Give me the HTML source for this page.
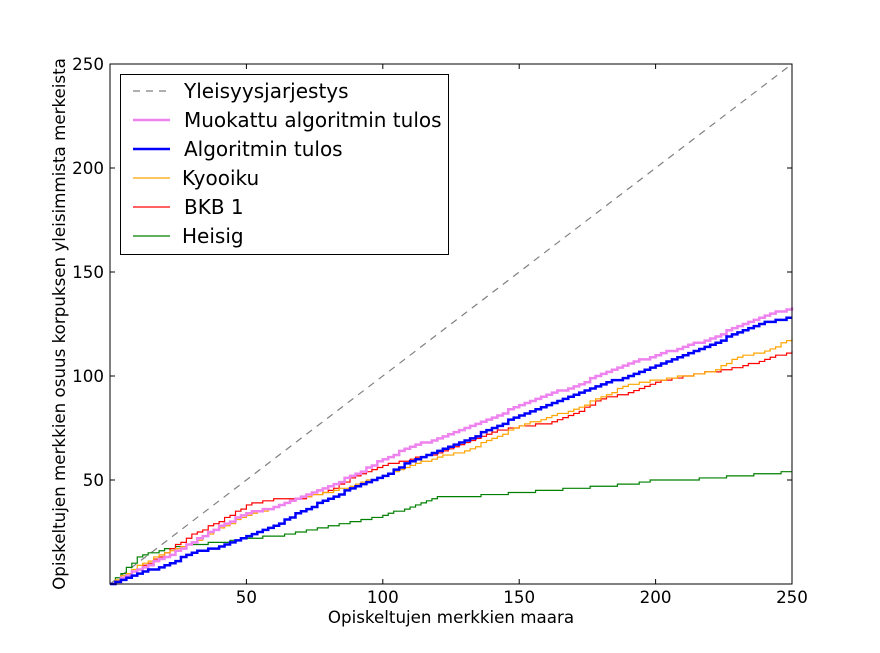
<!DOCTYPE html>
<html><head><meta charset="utf-8"><style>
body{margin:0;background:#fff}
svg{font-family:"DejaVu Sans","Liberation Sans",sans-serif}
</style></head><body>
<svg id="chart" width="880" height="648">
<rect width="880" height="648" fill="#fff"/>
<g id="plot"></g>
</svg>
<script>
const xs=[0,10,20,30,40,50,60,70,80,90,100,110,120,130,140,150,160,170,180,190,200,210,220,230,240,250];
const muokattu=[0,7,13,20,28,34,37,42,47,53,60,66,70,75,80,86,91,95,101,106,110,114,118,124,129,133];
const algoritmi=[0,5,9,15,18,23,28,35,41,47,52,59,64,69,75,81,86,91,96,100,105,110,115,121,126,128];
const kyooiku=[0,9,15,20,27,33,37,42,44,48,52,57,61,64,70,76,80,84,90,96,98,100,102,109,112,118];
const bkb=[0,7,15,24,30,38,41,41,45,52,57,60,63,68,73,76,77,82,89,92,97,100,102,104,108,112];
const heisig=[0,13,17,19,20,22,23,25,28,30,33,37,42,42,43,44,45,46,47,48,50,50,51,52,53,54];
const xticks=[50,100,150,200,250];
const yticks=[50,100,150,200,250];
const L=110,R=792,T=64,B=584;
const X=v=>L+(R-L)*v/250, Y=v=>B-(B-T)*v/250;
const NS="http://www.w3.org/2000/svg";
const g=document.getElementById('plot');
function mk(t,a,p){const e=document.createElementNS(NS,t);for(const k in a)e.setAttribute(k,a[k]);(p||g).appendChild(e);return e;}
let d=mk('line',{x1:X(0),y1:Y(0),x2:X(250),y2:Y(250),stroke:'#808080','stroke-width':1.2,'stroke-dasharray':'7,6'});


function stepPath(v){let s=`M${X(xs[0])},${Y(v[0])}`;for(let i=1;i<xs.length;i++){const n=5;for(let j=1;j<=n;j++){const xv=xs[i-1]+(xs[i]-xs[i-1])*j/n;const yv=Math.round(v[i-1]+(v[i]-v[i-1])*j/n);s+=` H${X(xv)} V${Y(yv)}`;}}return s;}
const series=[[heisig,'green',1.2,'series-heisig'],[bkb,'red',1.2,'series-bkb-1'],[kyooiku,'orange',1.2,'series-kyooiku'],[muokattu,'violet',2.5,'series-muokattu'],[algoritmi,'blue',2.5,'series-algoritmi']];
series.forEach(s=>{const p=mk('path',{d:stepPath(s[0]),fill:'none',stroke:s[1],'stroke-width':s[2]});

});
let fr=mk('rect',{x:L,y:T,width:R-L,height:B-T,fill:'none',stroke:'#000','stroke-width':1});


xticks.forEach(t=>{mk('line',{x1:X(t),y1:B,x2:X(t),y2:B-5,stroke:'#000'});mk('line',{x1:X(t),y1:T,x2:X(t),y2:T+5,stroke:'#000'});
const e=mk('text',{x:X(t),y:B+19,'text-anchor':'middle','font-size':16.7});e.textContent=t;

});
yticks.forEach(t=>{mk('line',{x1:L,y1:Y(t),x2:L+5,y2:Y(t),stroke:'#000'});mk('line',{x1:R,y1:Y(t),x2:R-5,y2:Y(t),stroke:'#000'});
const e=mk('text',{x:L-6,y:Y(t)+6,'text-anchor':'end','font-size':16.7});e.textContent=t;

});
</script>
<svg style="position:absolute;left:0;top:0" width="880" height="648" font-family="DejaVu Sans, Liberation Sans, sans-serif">
<text x="451" y="623" text-anchor="middle" font-size="16.7">Opiskeltujen merkkien maara</text>
<text transform="translate(65,324) rotate(-90)" text-anchor="middle" font-size="16.7">Opiskeltujen merkkien osuus korpuksen yleisimmista merkeista</text>
<g>
<rect x="120.5" y="74.5" width="328" height="180" fill="#fff" stroke="#000"/>
<line x1="133" y1="91" x2="170" y2="91" stroke="#808080" stroke-width="1.2" stroke-dasharray="7,6"/>
<text x="184" y="98" font-size="20">Yleisyysjarjestys</text>
<line x1="133" y1="120" x2="170" y2="120" stroke="violet" stroke-width="2.5"/>
<text x="184" y="127" font-size="20">Muokattu algoritmin tulos</text>
<line x1="133" y1="149" x2="170" y2="149" stroke="blue" stroke-width="2.5"/>
<text x="184" y="156" font-size="20">Algoritmin tulos</text>
<line x1="133" y1="178" x2="170" y2="178" stroke="orange" stroke-width="1.2"/>
<text x="182" y="185" font-size="20">Kyooiku</text>
<line x1="133" y1="207" x2="170" y2="207" stroke="red" stroke-width="1.2"/>
<text x="184" y="214" font-size="20">BKB 1</text>
<line x1="133" y1="236" x2="170" y2="236" stroke="green" stroke-width="1.2"/>
<text x="182" y="243" font-size="20">Heisig</text>
</g>
</svg>
</body></html>
